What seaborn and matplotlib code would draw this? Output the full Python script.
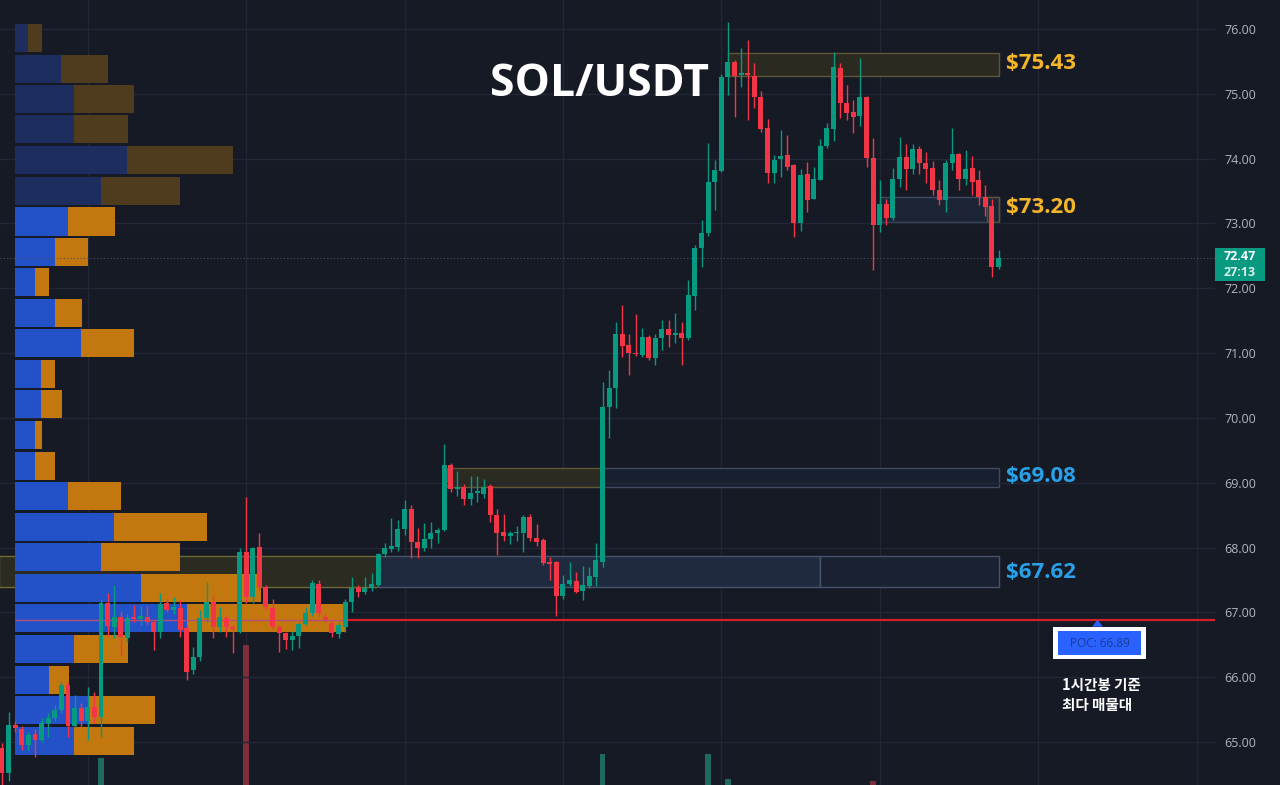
import numpy as np
import seaborn as sns
import matplotlib.pyplot as plt
from matplotlib.patches import Rectangle, Polygon
from matplotlib.transforms import blended_transform_factory

# SOL/USDT 1h candles
opens = [64.91, 64.52, 65.26, 65.20, 64.95, 65.12, 65.03, 65.29, 65.37, 65.50,
         65.88, 65.25, 65.52, 65.33, 65.54, 65.38, 67.14, 66.78, 66.93, 66.60,
         66.93, 66.90, 66.93, 66.85, 66.70, 67.14, 67.03, 67.07, 66.76, 66.11,
         66.31, 66.91, 67.16, 66.78, 66.92, 66.78, 66.70, 67.93, 67.24, 68.01,
         67.39, 67.07, 66.78, 66.68, 66.57, 66.64, 66.82, 66.99, 67.44, 66.93,
         66.84, 66.66, 66.78, 67.16, 67.38, 67.32, 67.37, 67.42, 67.90, 67.98,
         68.01, 68.29, 68.60, 68.09, 67.99, 68.13, 68.22, 68.27, 69.27, 68.90,
         68.93, 68.75, 68.84, 68.83, 68.95, 68.50, 68.24, 68.18, 68.22, 68.22,
         68.47, 68.15, 68.12, 67.78, 67.77, 67.25, 67.44, 67.48, 67.33, 67.41,
         67.55, 67.78, 70.17, 70.46, 71.29, 71.12, 71.00, 70.97, 71.25, 70.93,
         71.24, 71.37, 71.28, 71.31, 71.23, 71.88, 72.62, 72.85, 73.64, 73.81,
         75.26, 75.49, 75.29, 75.32, 75.27, 74.95, 74.47, 73.78, 74.00, 74.05,
         73.90, 73.00, 73.76, 73.37, 73.67, 74.20, 74.46, 75.40, 74.86, 74.72,
         74.66, 74.95, 74.01, 72.98, 73.30, 73.08, 73.68, 74.02, 73.84, 74.15,
         73.93, 73.86, 73.52, 73.36, 73.93, 74.07, 73.69, 73.86, 73.67, 73.41,
         73.27, 72.33]
highs = [64.98, 65.46, 65.32, 65.25, 65.16, 65.20, 65.37, 65.45, 65.57, 65.93,
         65.93, 65.73, 65.60, 65.85, 65.77, 67.19, 67.30, 67.42, 67.00, 66.98,
         67.11, 67.10, 67.10, 66.88, 67.30, 67.20, 67.24, 67.19, 66.80, 66.47,
         67.04, 67.47, 67.27, 67.08, 66.95, 66.80, 67.99, 68.78, 68.01, 68.22,
         67.43, 67.20, 66.80, 66.70, 66.72, 66.85, 67.08, 67.50, 67.50, 66.99,
         66.88, 66.85, 67.20, 67.55, 67.42, 67.55, 67.61, 67.92, 68.07, 68.46,
         68.42, 68.73, 68.65, 68.30, 68.38, 68.40, 68.30, 69.60, 69.30, 69.18,
         68.98, 69.10, 69.10, 69.05, 68.98, 68.60, 68.51, 68.25, 68.33, 68.50,
         68.52, 68.36, 68.14, 67.85, 67.80, 67.58, 67.77, 67.62, 67.72, 67.70,
         68.07, 70.55, 70.74, 71.48, 71.74, 71.30, 71.60, 71.38, 71.28, 71.30,
         71.51, 71.51, 71.62, 71.48, 72.13, 72.66, 73.05, 74.24, 73.98, 75.30,
         76.11, 75.52, 75.71, 75.83, 75.47, 75.05, 74.61, 74.05, 74.44, 74.36,
         73.92, 73.84, 73.95, 73.87, 74.30, 74.55, 75.65, 75.47, 75.14, 74.90,
         75.55, 74.97, 74.32, 73.67, 73.38, 73.86, 74.33, 74.23, 74.23, 74.20,
         74.10, 73.96, 73.67, 73.98, 74.47, 74.08, 74.13, 74.04, 73.82, 73.60,
         73.38, 72.59]
lows = [64.30, 64.40, 65.15, 64.88, 64.88, 64.77, 65.00, 65.08, 65.33, 65.45,
        65.08, 65.22, 65.22, 65.03, 65.30, 65.08, 66.64, 66.60, 66.34, 66.55,
        66.85, 66.80, 66.80, 66.42, 66.60, 67.00, 66.98, 66.62, 65.96, 66.05,
        66.25, 66.85, 66.60, 66.70, 66.62, 66.37, 66.68, 67.14, 67.14, 67.35,
        67.05, 66.75, 66.39, 66.43, 66.42, 66.45, 66.80, 66.95, 66.95, 66.85,
        66.62, 66.60, 66.70, 67.00, 67.24, 67.28, 67.33, 67.40, 67.85, 67.93,
        67.95, 68.20, 67.84, 67.84, 67.95, 67.99, 68.07, 68.25, 68.85, 68.79,
        68.65, 68.65, 68.70, 68.76, 68.39, 67.88, 68.10, 68.05, 68.10, 67.93,
        68.10, 68.02, 67.73, 67.50, 66.94, 67.20, 67.40, 67.30, 67.19, 67.37,
        67.40, 67.70, 69.69, 70.15, 70.94, 70.66, 70.96, 70.94, 70.90, 70.82,
        71.05, 71.10, 71.15, 70.82, 71.20, 71.66, 72.33, 72.80, 73.20, 73.80,
        74.98, 74.64, 75.10, 74.60, 74.78, 74.41, 73.62, 73.62, 73.72, 73.83,
        72.79, 72.88, 73.18, 73.37, 73.67, 74.17, 74.27, 74.63, 74.60, 74.40,
        74.50, 73.87, 72.28, 72.87, 72.97, 73.05, 73.56, 73.51, 73.76, 73.76,
        73.63, 73.44, 73.28, 73.18, 73.82, 73.52, 73.59, 73.44, 73.28, 73.11,
        72.17, 72.30]
closes = [64.52, 65.26, 65.22, 64.95, 65.11, 65.03, 65.29, 65.37, 65.50, 65.88,
          65.25, 65.52, 65.33, 65.54, 65.38, 67.14, 66.79, 66.93, 66.62, 66.91,
          66.90, 66.94, 66.85, 66.70, 67.13, 67.03, 67.08, 66.73, 66.08, 66.31,
          66.91, 67.16, 66.78, 66.93, 66.78, 66.74, 67.93, 67.24, 68.00, 67.39,
          67.08, 66.78, 66.68, 66.57, 66.64, 66.82, 66.99, 67.45, 66.99, 66.88,
          66.68, 66.80, 67.16, 67.38, 67.32, 67.37, 67.44, 67.90, 67.99, 68.02,
          68.29, 68.60, 68.09, 67.99, 68.13, 68.22, 68.27, 69.27, 68.90, 68.93,
          68.75, 68.84, 68.87, 68.93, 68.50, 68.22, 68.18, 68.22, 68.24, 68.47,
          68.15, 68.09, 67.76, 67.75, 67.25, 67.44, 67.50, 67.32, 67.42, 67.56,
          67.81, 70.17, 70.46, 71.29, 71.11, 71.00, 70.98, 71.25, 70.93, 71.24,
          71.37, 71.28, 71.30, 71.23, 71.90, 72.62, 72.85, 73.64, 73.83, 75.26,
          75.49, 75.27, 75.32, 75.29, 74.95, 74.46, 73.78, 73.98, 74.04, 73.87,
          73.00, 73.75, 73.36, 73.69, 74.20, 74.47, 75.41, 74.86, 74.70, 74.64,
          74.95, 74.01, 72.98, 73.30, 73.08, 73.68, 74.02, 73.84, 74.15, 73.93,
          73.84, 73.52, 73.36, 73.93, 74.07, 73.69, 73.84, 73.64, 73.41, 73.25,
          72.33, 72.47]

# Visible volume spikes at the bottom (candle index, volume)
vol_idx = [15, 37, 91, 107, 110, 132]
vol_val = [27, 140, 31, 31, 6, 4]

# Volume profile rows (price level, buy volume, sell volume)
vp_levels = [75.86, 75.39, 74.92, 74.45, 73.98, 73.50, 73.03, 72.56, 72.09, 71.62,
             71.15, 70.68, 70.21, 69.73, 69.26, 68.79, 68.32, 67.85, 67.38, 66.91,
             66.43, 65.96, 65.49, 65.02]
vp_up = [13, 46, 59, 59, 112, 86, 53, 40, 20, 40, 66, 26, 26, 20, 20, 53, 99, 86,
         126, 172, 59, 34, 73, 59]
vp_down = [14, 47, 60, 54, 106, 79, 47, 33, 14, 27, 53, 14, 21, 7, 20, 53, 93, 79,
           120, 159, 54, 20, 67, 60]
value_area_high = 73.27
poc_price = 66.89

# Support / resistance zones
zone_start = [110, 133, 67.5, -0.5]
zone_low = [75.27, 73.02, 68.93, 67.39]
zone_high = [75.63, 73.41, 69.23, 67.87]
zone_labels = ['$75.43', '$73.20', '$69.08', '$67.62']
zone_label_price = [75.47, 73.24, 69.10, 67.62]

BG = '#161a25'
GREEN = '#089981'
RED = '#f23645'
GOLD = '#f5b52a'
BLUE_TXT = '#29a0e8'
GRID = '#232735'

sns.set_theme(style='dark')
plt.rcParams['font.family'] = ['Open Sans', 'DejaVu Sans']

fig = plt.figure(figsize=(12.8, 7.85), dpi=100, facecolor=BG)
rect = [0, 0, 1215 / 1280, 1]
ax_vol = fig.add_axes(rect, zorder=0)
ax_vp = fig.add_axes(rect, zorder=1)
ax = fig.add_axes(rect, zorder=2)

n = len(closes)
idx = np.arange(n)
xlim = (-0.3, 183.8)
ylim = (64.337, 76.447)

# main price axes (limits first so zone patches can use its transform)
ax.set_facecolor('none')
ax.set_xlim(xlim)
ax.set_ylim(ylim)

# background: day grid, zones, volume spikes
ax_vol.set_facecolor(BG)
ax_vol.set_xlim(xlim)
ax_vol.set_ylim(0, 785)
ax_vol.set_xticks(np.arange(13, 184, 24))
ax_vol.set_yticks([])
ax_vol.tick_params(length=0, labelbottom=False)
ax_vol.grid(axis='x', color=GRID, lw=1)
vcols = ['#1f6a5e' if closes[i] >= opens[i] else '#7c2f3a' for i in vol_idx]
ax_vol.bar(vol_idx, vol_val, width=0.85, color=vcols, linewidth=0)

end = n - 1 + 0.1
zone_styles = [
    [('#2a2a21', '#5c5735', zone_start[0], end)],
    [('#1c2536', '#3f4a60', zone_start[1], end)],
    [('#2b2b22', '#5c5735', zone_start[2], 91), ('#182030', '#3f4a60', 91, end)],
    [('#2b2b22', '#6d6a36', zone_start[3], 57), ('#1f2a3e', '#46536b', 57, 124),
     ('#1a2232', '#46536b', 124, end)],
]
for k, parts in enumerate(zone_styles):
    for fc, ec, x0, x1 in parts:
        ax_vol.add_patch(Rectangle((x0, zone_low[k]), x1 - x0, zone_high[k] - zone_low[k],
                                   transform=ax.transData, facecolor=fc, edgecolor=ec,
                                   lw=1, zorder=1))
ax_vol.add_patch(Rectangle((149.3, zone_low[1]), end - 149.3, zone_high[1] - zone_low[1],
                           transform=ax.transData, facecolor='none', edgecolor='#5c5735',
                           lw=1, zorder=1))

# volume profile
ax_vp.set_facecolor('none')
ax_vp.set_axisbelow(True)
lv = np.array(vp_levels)
up = np.array(vp_up)
tot = up + np.array(vp_down)
in_va = lv <= value_area_high
for mask, c_up, c_dn in [(~in_va, '#1c2d5e', '#4f3b1e'), (in_va, '#2351c8', '#c3780f')]:
    sns.barplot(x=tot[mask], y=lv[mask], orient='y', native_scale=True, width=0.92,
                color=c_dn, saturation=1, errorbar=None, linewidth=0, ax=ax_vp)
    sns.barplot(x=up[mask], y=lv[mask], orient='y', native_scale=True, width=0.92,
                color=c_up, saturation=1, errorbar=None, linewidth=0, ax=ax_vp)
ax_vp.set_xlim(-15, 1200)
ax_vp.set_ylim(ylim)
ax_vp.set_yticks(np.arange(65, 77))
ax_vp.set_xticks([])
ax_vp.tick_params(length=0, labelleft=False)
ax_vp.grid(axis='y', color=GRID, lw=1)
ax_vp.set_xlabel('')
ax_vp.set_ylabel('')
poc_len = tot[np.argmax(tot)]
ax_vp.hlines(poc_price, 0, poc_len, color='#b0507a', lw=1, zorder=3)

for a in (ax, ax_vp, ax_vol):
    for s in a.spines.values():
        s.set_visible(False)

# POC line and current price line
poc_frac = (poc_len + 15) / 1215
ax.axhline(poc_price, xmin=poc_frac, xmax=1, color='#d41f2b', lw=1.6, zorder=2)
ax.axhline(closes[-1], color='#4d5260', lw=0.8, ls=(0, (1, 2)), zorder=1)

# candles
opens_a, closes_a = np.array(opens), np.array(closes)
cols = np.where(closes_a >= opens_a, GREEN, RED)
ax.vlines(idx, lows, highs, colors=cols, lw=1, zorder=3)
body_lo = np.minimum(opens_a, closes_a)
body_h = np.maximum(np.abs(closes_a - opens_a), 0.025)
ax.bar(idx, body_h, bottom=body_lo, width=0.75, color=cols, linewidth=0, zorder=4)

# zone labels
for k, lab in enumerate(zone_labels):
    ax.text(n + 0.1, zone_label_price[k], lab, ha='left', va='center',
            color=GOLD if k < 2 else BLUE_TXT, fontsize=16, fontweight='bold')

# title
ax.text(90.5, 75.15, 'SOL/USDT', ha='center', va='center', color='white',
        fontsize=32, fontweight='bold')

# price axis on the right
ax.yaxis.tick_right()
ax.set_yticks(np.arange(65, 77))
ax.set_yticklabels([f'{v:.2f}' for v in np.arange(65, 77)])
ax.tick_params(axis='y', length=0, pad=7, labelsize=9, labelcolor='#b2b5be')
ax.set_xticks([])

# current price tag
tr = blended_transform_factory(ax.transAxes, ax.transData)
ax.add_patch(Rectangle((1.0, 72.11), 0.041, 0.51, transform=tr, facecolor=GREEN,
                       edgecolor='none', clip_on=False, zorder=5))
ax.text(1.0205, closes[-1] + 0.02, f'{closes[-1]:.2f}', transform=tr, ha='center',
        va='center', color='white', fontsize=9, fontweight='bold', clip_on=False, zorder=6)
ax.text(1.0205, 72.25, '27:13', transform=tr, ha='center', va='center',
        color='#d8f0ea', fontsize=9, fontweight='bold', clip_on=False, zorder=6)

# POC tag
ax.add_patch(Rectangle((159.2, 66.28), 14.1, 0.50, facecolor='white', edgecolor='none', zorder=5))
ax.add_patch(Rectangle((160.0, 66.34), 12.6, 0.37, facecolor='#2962ff', edgecolor='none', zorder=6))
ax.add_patch(Polygon([[165.2, 66.78], [166.8, 66.78], [166.0, poc_price]],
                     closed=True, facecolor='#2962ff', edgecolor='none', zorder=6))
ax.text(166.3, 66.525, f'POC: {poc_price:.2f}', ha='center', va='center',
        color='#1b3b96', fontsize=8.5, zorder=7)
ax.text(160.6, 65.72, '1시간봉 기준\n최다 매물대', ha='left', va='center', color='white',
        fontsize=10.5, fontweight='bold', linespacing=1.3,
        family=['Noto Sans CJK KR', 'DejaVu Sans'])

fig.savefig('out.png', dpi=100, facecolor=BG)
